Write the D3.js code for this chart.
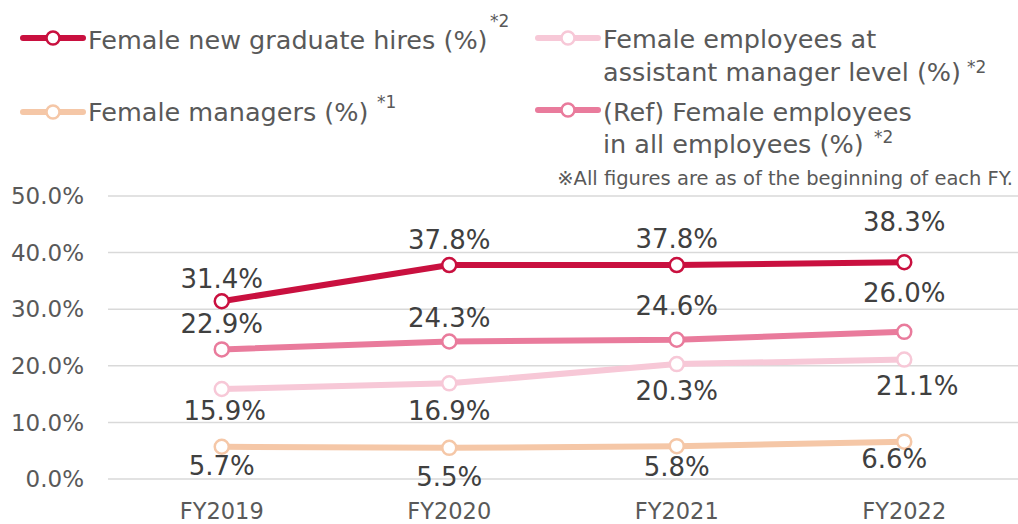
<!DOCTYPE html>
<html><head><meta charset="utf-8">
<script src="https://cdn.jsdelivr.net/npm/d3@7"></script>
<style>
html,body{margin:0;padding:0;background:#fff;}
svg{display:block;font-family:"DejaVu Sans",Verdana,sans-serif;}
</style></head>
<body>
<svg id="chart" width="1018" height="524"></svg>
<script>
const years = ["FY2019","FY2020","FY2021","FY2022"];
const hires = [31.4, 37.8, 37.8, 38.3];
const allEmployees = [22.9, 24.3, 24.6, 26.0];
const asstManagers = [15.9, 16.9, 20.3, 21.1];
const managers = [5.7, 5.5, 5.8, 6.6];
const yTicks = [0, 10, 20, 30, 40, 50];

// label placement (layout, not data)
const seriesDefs = [
  {values: managers, color: "#f5c7a7", dy: [28, 38, 30, 26], dx: [0, 0, 0, -10]},
  {values: asstManagers, color: "#f7c8d7", dy: [31, 37, 36, 35], dx: [3, 0, 0, 13]},
  {values: allEmployees, color: "#e97b9c", dy: [-16, -14, -25, -30], dx: [0, 0, 0, 0]},
  {values: hires, color: "#c9103f", dy: [-13, -16, -17, -31], dx: [0, 0, 0, 0]}
];

const svg = d3.select("#chart");
const x = d3.scalePoint().domain(years).range([108, 1018]).padding(0.5);
const y = d3.scaleLinear().domain([0, 50]).range([479, 196]);

// gridlines
svg.append("g").selectAll("line").data(yTicks).join("line")
  .attr("x1", 108).attr("x2", 1018)
  .attr("y1", d => y(d)).attr("y2", d => y(d))
  .attr("stroke", "#d9d9d9").attr("stroke-width", 1.5);

// y labels
svg.append("g").selectAll("text").data(yTicks).join("text")
  .attr("x", 84).attr("y", d => y(d)).attr("dy", "0.36em")
  .attr("text-anchor", "end").attr("font-size", 23).attr("fill", "#595959")
  .text(d => d.toFixed(1) + "%");

// x labels
svg.append("g").selectAll("text").data(years).join("text")
  .attr("x", d => x(d)).attr("y", 519)
  .attr("text-anchor", "middle").attr("font-size", 22.5).attr("fill", "#595959")
  .text(d => d);

const line = d3.line().x((d, i) => x(years[i])).y(d => y(d));

seriesDefs.forEach(s => {
  const g = svg.append("g");
  g.append("path").datum(s.values).attr("d", line)
    .attr("fill", "none").attr("stroke", s.color).attr("stroke-width", 6)
    .attr("stroke-linecap", "round").attr("stroke-linejoin", "round");
  g.selectAll("circle").data(s.values).join("circle")
    .attr("cx", (d, i) => x(years[i])).attr("cy", d => y(d)).attr("r", 7)
    .attr("fill", "#fff").attr("stroke", s.color).attr("stroke-width", 2.5);
});
seriesDefs.forEach(s => {
  svg.append("g").selectAll("text").data(s.values).join("text")
    .attr("x", (d, i) => x(years[i]) + s.dx[i]).attr("y", (d, i) => y(d) + s.dy[i])
    .attr("text-anchor", "middle").attr("font-size", 26).attr("fill", "#404040")
    .text(d => d.toFixed(1) + "%");
});

// legend
const legend = [
  {color: "#c9103f", sx: 23, sy: 38, lines: ["Female new graduate hires (%)"], tx: 88, ty: [49], sup: "*2", supX: 490, supY: 27},
  {color: "#f5c7a7", sx: 23, sy: 112, lines: ["Female managers (%)"], tx: 88, ty: [121], sup: "*1", supX: 377, supY: 108},
  {color: "#f7c8d7", sx: 538, sy: 38, lines: ["Female employees at", "assistant manager level (%)"], tx: 603, ty: [48, 81], sup: "*2", supX: 967, supY: 73},
  {color: "#e97b9c", sx: 538, sy: 110, lines: ["(Ref) Female employees", "in all employees (%)"], tx: 603, ty: [121, 153], sup: "*2", supX: 874, supY: 143}
];
legend.forEach(l => {
  const g = svg.append("g");
  g.append("line").attr("x1", l.sx).attr("x2", l.sx + 60).attr("y1", l.sy).attr("y2", l.sy)
    .attr("stroke", l.color).attr("stroke-width", 6).attr("stroke-linecap", "round");
  g.append("circle").attr("cx", l.sx + 30).attr("cy", l.sy).attr("r", 6.5)
    .attr("fill", "#fff").attr("stroke", l.color).attr("stroke-width", 2.5);
  l.lines.forEach((t, i) => {
    g.append("text").attr("x", l.tx).attr("y", l.ty[i]).attr("font-size", 25.5).attr("fill", "#595959").text(t);
  });
  g.append("text").attr("x", l.supX).attr("y", l.supY).attr("font-size", 17).attr("fill", "#595959").text(l.sup);
});

svg.append("text").attr("x", 1013).attr("y", 185).attr("text-anchor", "end")
  .attr("font-size", 19.5).attr("fill", "#595959")
  .text("※All figures are as of the beginning of each FY.");
</script>
</body></html>
